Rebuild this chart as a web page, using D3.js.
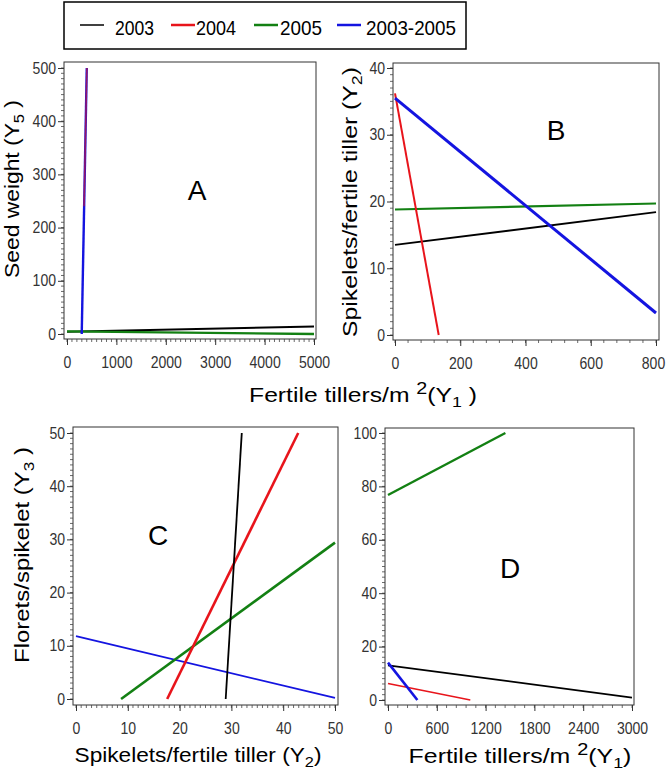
<!DOCTYPE html>
<html><head><meta charset="utf-8">
<script src="https://cdn.jsdelivr.net/npm/d3@7"></script>
<style>
body{margin:0;background:#fff;}
svg{display:block;font-family:"Liberation Sans",Arial,sans-serif;}
.tick text{fill:#333;}
</style></head>
<body><svg id="c" width="668" height="773"></svg>
<script>
const seriesNames = ["2003", "2004", "2005", "2003-2005"];
const seriesColors = ["#000000", "#e8141b", "#138013", "#1414e0"];

// Panel A: Seed weight (Y5) vs Fertile tillers/m2 (Y1)
const aX = [0, 5000], aY = [0, 500];
const aTicksX = [0, 1000, 2000, 3000, 4000, 5000];
const aTicksY = [0, 100, 200, 300, 400, 500];
const a2003 = [[0, 4], [5000, 14]];
const a2004 = [[345, 240], [402, 500]];
const a2005 = [[0, 5], [5000, 0]];
const a0305 = [[298, 0], [400, 500]];

// Panel B: Spikelets/fertile tiller (Y2) vs Fertile tillers/m2 (Y1)
const bX = [0, 800], bY = [0, 40];
const bTicksX = [0, 200, 400, 600, 800];
const bTicksY = [0, 10, 20, 30, 40];
const b2003 = [[0, 13.5], [800, 18.4]];
const b2004 = [[0, 36.2], [134, 0]];
const b2005 = [[0, 18.8], [800, 19.7]];
const b0305 = [[0, 35.5], [800, 3.3]];

// Panel C: Florets/spikelet (Y3) vs Spikelets/fertile tiller (Y2)
const cX = [0, 50], cY = [0, 50];
const cTicksX = [0, 10, 20, 30, 40, 50];
const cTicksY = [0, 10, 20, 30, 40, 50];
const c2003 = [[28.9, 0], [32.0, 50]];
const c2004 = [[17.6, 0], [42.9, 50]];
const c2005 = [[8.7, 0], [50, 29.4]];
const c0305 = [[0, 11.8], [50, 0.2]];

// Panel D: vs Fertile tillers/m2 (Y1)
const dX = [0, 3000], dY = [0, 100];
const dTicksX = [0, 600, 1200, 1800, 2400, 3000];
const dTicksY = [0, 20, 40, 60, 80, 100];
const d2003 = [[0, 13], [3000, 0.9]];
const d2004 = [[0, 6.2], [1012, 0]];
const d2005 = [[0, 76.8], [1443, 100]];
const d0305 = [[0, 14], [361, 0]];

const svg = d3.select("#c");

function narrowTicks(s){
  s.selectAll(".tick text").attr("font-size", 16)
    .attr("textLength", function(){ return this.textContent.length * 7.8; })
    .attr("lengthAdjust", "spacingAndGlyphs");
}

function panel(cfg){
  const g = svg.append("g");
  const x = d3.scaleLinear().domain(cfg.xd).range([cfg.x0, cfg.x1]);
  const y = d3.scaleLinear().domain(cfg.yd).range([cfg.y0, cfg.y1]);
  g.append("rect").attr("x", cfg.fl).attr("y", cfg.ft)
    .attr("width", cfg.fr - cfg.fl).attr("height", cfg.fb - cfg.ft)
    .attr("fill", "none").attr("stroke", "#333").attr("stroke-width", 1);
  const xa = g.append("g").attr("transform", `translate(0,${cfg.fb})`);
  xa.selectAll("line.mn").data(d3.range(cfg.xd[0], cfg.xd[1] + 1e-9, cfg.xm))
    .join("line").attr("x1", d => x(d)).attr("x2", d => x(d)).attr("y1", 0).attr("y2", 3)
    .attr("stroke", "#444").attr("stroke-width", 0.8);
  xa.call(d3.axisBottom(x).tickValues(cfg.tx).tickSize(6).tickFormat(d3.format("d")))
    .call(s => s.select(".domain").remove())
    .call(s => s.selectAll(".tick line").attr("stroke", "#333"))
    .call(narrowTicks)
    .call(s => s.selectAll(".tick text").attr("y", 29).attr("dy", 0));
  if (cfg.lastShift) {
    xa.selectAll(".tick").filter((d, i, n) => i === n.length - 1).select("text").attr("x", cfg.lastShift);
  }
  const ya = g.append("g").attr("transform", `translate(${cfg.fl},0)`);
  ya.selectAll("line.mn").data(d3.range(cfg.yd[0], cfg.yd[1] + 1e-9, cfg.ym))
    .join("line").attr("y1", d => y(d)).attr("y2", d => y(d)).attr("x1", 0).attr("x2", -3)
    .attr("stroke", "#444").attr("stroke-width", 0.8);
  ya.call(d3.axisLeft(y).tickValues(cfg.ty).tickSize(6).tickPadding(2).tickFormat(d3.format("d")))
    .call(s => s.select(".domain").remove())
    .call(s => s.selectAll(".tick line").attr("stroke", "#333"))
    .call(narrowTicks);
  const line = d3.line().x(d => x(d[0])).y(d => y(d[1]));
  cfg.order.forEach(i => {
    g.append("path").attr("d", line(cfg.series[i])).attr("fill", "none")
      .attr("stroke", seriesColors[i]).attr("stroke-width", cfg.w[i])
      .attr("stroke-opacity", cfg.op ? cfg.op[i] : 1);
  });
  g.append("text").attr("x", cfg.lx).attr("y", cfg.ly).attr("font-size", 28)
    .attr("text-anchor", "middle").text(cfg.label);
}

function title(parts, cx, cy, rot, size, len){
  const t = svg.append("text").attr("font-size", size).attr("text-anchor", "middle");
  parts.forEach(p => {
    const ts = t.append("tspan").text(p.t);
    if (p.sub) ts.attr("font-size", size * 0.72).attr("dy", size * 0.25);
    if (p.sup) ts.attr("font-size", size * 0.8).attr("dy", -size * 0.38);
    if (p.dy) ts.attr("dy", p.dy * size);
  });
  const w = t.node().getBBox().width;
  const s = len / w;
  t.attr("transform", `translate(${cx},${cy}) rotate(${rot}) scale(${s},1)`);
}

panel({xd: aX, yd: aY, x0: 67, x1: 314, y0: 334, y1: 68, fl: 64, fr: 316, ft: 62, fb: 339,
  tx: aTicksX, ty: aTicksY, xm: 100, ym: 10, series: [a2003, a2004, a2005, a0305],
  order: [0, 2, 3, 1], w: [2, 1.6, 2.4, 2.4], op: [1, 0.6, 1, 1],
  label: "A", lx: 197, ly: 200});

panel({xd: bX, yd: bY, x0: 395, x1: 656, y0: 335, y1: 68, fl: 393, fr: 659, ft: 63, fb: 340,
  tx: bTicksX, ty: bTicksY, xm: 40, ym: 1, series: [b2003, b2004, b2005, b0305],
  order: [0, 2, 1, 3], w: [1.8, 2, 2.2, 3], lastShift: -3,
  label: "B", lx: 556, ly: 140});

panel({xd: cX, yd: cY, x0: 76, x1: 335, y0: 699, y1: 433, fl: 73, fr: 338, ft: 427, fb: 705,
  tx: cTicksX, ty: cTicksY, xm: 1, ym: 1, series: [c2003, c2004, c2005, c0305],
  order: [3, 2, 1, 0], w: [1.8, 2.6, 2.6, 1.8],
  label: "C", lx: 158, ly: 545});

panel({xd: dX, yd: dY, x0: 388, x1: 632, y0: 700, y1: 433, fl: 385, fr: 634, ft: 428, fb: 705,
  tx: dTicksX, ty: dTicksY, xm: 120, ym: 2, series: [d2003, d2004, d2005, d0305],
  order: [0, 1, 3, 2], w: [1.8, 1.6, 2.4, 2.6],
  label: "D", lx: 510, ly: 578});

title([{t: "Seed weight (Y"}, {t: "5", sub: 1}, {t: " )", dy: -0.25}], 19, 189, -90, 20, 178);
title([{t: "Spikelets/fertile tiller (Y"}, {t: "2", sub: 1}, {t: ")", dy: -0.25}], 357, 202, -90, 20, 270);
title([{t: "Florets/spikelet (Y"}, {t: "3", sub: 1}, {t: " )", dy: -0.25}], 29, 555, -90, 21, 216);
title([{t: "Fertile tillers/m "}, {t: "2", sup: 1}, {t: "(Y", dy: 0.38}, {t: "1", sub: 1}, {t: " )", dy: -0.25}], 363, 402, 0, 20, 228);
title([{t: "Spikelets/fertile tiller (Y"}, {t: "2", sub: 1}, {t: ")", dy: -0.25}], 198, 762, 0, 20, 247);
title([{t: "Fertile tillers/m "}, {t: "2", sup: 1}, {t: "(Y", dy: 0.38}, {t: "1", sub: 1}, {t: ")", dy: -0.25}], 520, 763, 0, 20, 223);

const leg = svg.append("g");
leg.append("rect").attr("x", 64).attr("y", 2).attr("width", 402).attr("height", 47)
  .attr("fill", "#fff").attr("stroke", "#000").attr("stroke-width", 1.5);
const legX = [80, 171, 254, 337];
const legTextX = [115, 196, 280, 366];
const legTextLen = [39, 40, 42, 90];
const legW = [1.5, 2.5, 2.5, 2.5];
seriesNames.forEach((n, i) => {
  leg.append("line").attr("x1", legX[i]).attr("x2", legX[i] + 24).attr("y1", 25).attr("y2", 25)
    .attr("stroke", seriesColors[i]).attr("stroke-width", legW[i]);
  leg.append("text").attr("x", legTextX[i]).attr("y", 35)
    .attr("font-size", 21).attr("textLength", legTextLen[i]).attr("lengthAdjust", "spacingAndGlyphs")
    .text(n);
});
</script></body></html>
